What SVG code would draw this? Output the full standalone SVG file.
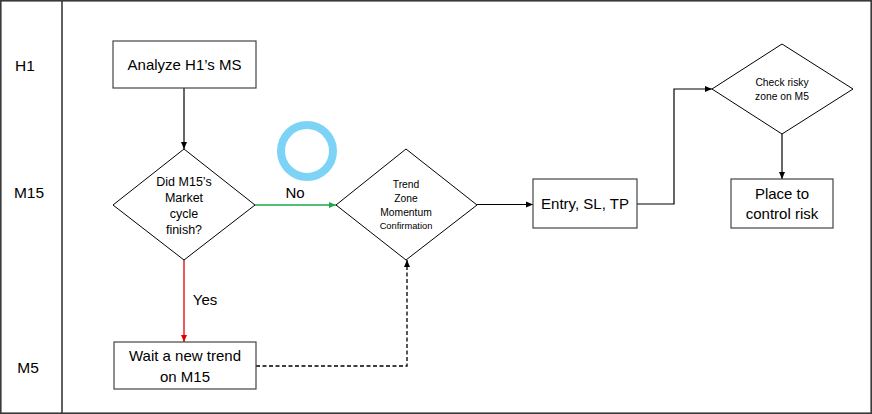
<svg xmlns="http://www.w3.org/2000/svg" width="872" height="414" viewBox="0 0 872 414">
<defs>
<style>
text{font-family:"Liberation Sans",Arial,sans-serif;fill:#000;text-anchor:middle}
.lane{font-size:15.5px}
.big{font-size:15px}
.mid{font-size:12.5px}
.sm{font-size:10.3px}
.xs{font-size:9.3px}
.node{fill:#fff;stroke:#000;stroke-width:1}
.box{fill:#fff;stroke:#444;stroke-width:1.2}
.c{fill:none;stroke:#000;stroke-width:1.2}
</style>
<marker id="ak" markerWidth="8" markerHeight="8" refX="7" refY="4" orient="auto" markerUnits="userSpaceOnUse"><path d="M0,1 L7,4 L0,7 z" fill="#000"/></marker>
<marker id="ag" markerWidth="8" markerHeight="8" refX="7" refY="4" orient="auto" markerUnits="userSpaceOnUse"><path d="M0,1 L7,4 L0,7 z" fill="#1aaa4a"/></marker>
<marker id="ar" markerWidth="8" markerHeight="8" refX="7" refY="4" orient="auto" markerUnits="userSpaceOnUse"><path d="M0,1 L7,4 L0,7 z" fill="#e00000"/></marker>
</defs>
<rect x="0" y="0" width="872" height="414" fill="#fff"/>
<g id="frame">
<rect x="0.8" y="0.8" width="870.4" height="412.4" fill="none" stroke="#3a3a3a" stroke-width="1.6"/>
<line x1="62" y1="0" x2="62" y2="414" stroke="#3a3a3a" stroke-width="1.6"/>
<text class="lane" x="25" y="71">H1</text>
<text class="lane" x="29" y="198">M15</text>
<text class="lane" x="28" y="373">M5</text>
</g>
<g id="connectors">
<line class="c" x1="184" y1="88" x2="184" y2="149" marker-end="url(#ak)"/>
<line x1="255" y1="205" x2="336" y2="205" stroke="#1aaa4a" stroke-width="1.3" marker-end="url(#ag)"/>
<text class="big" x="295" y="198">No</text>
<line x1="184" y1="260" x2="184" y2="342" stroke="#e00000" stroke-width="1.3" marker-end="url(#ar)"/>
<text class="big" x="205" y="305">Yes</text>
<polyline points="256,366 407,366 407,260" fill="none" stroke="#000" stroke-width="1.3" stroke-dasharray="4,2.5" marker-end="url(#ak)"/>
<line class="c" x1="477" y1="204.5" x2="533" y2="204.5" marker-end="url(#ak)"/>
<polyline class="c" points="637,204 674,204 674,89 712,89" stroke-width="1.6" marker-end="url(#ak)"/>
<line class="c" x1="782" y1="134" x2="782" y2="179" stroke-width="1.6" marker-end="url(#ak)"/>
</g>
<g id="n-analyze">
<rect class="box" x="113" y="41" width="143" height="47"/>
<text class="big" x="184.5" y="70">Analyze H1’s MS</text>
</g>
<g id="n-did">
<polygon class="node" points="184,149 255,205 184,260 113,205"/>
<text class="mid" x="184" y="186">Did M15’s</text>
<text class="mid" x="184" y="202">Market</text>
<text class="mid" x="184" y="218">cycle</text>
<text class="mid" x="184" y="234">finish?</text>
</g>
<g id="n-trend">
<polygon class="node" points="406,149 477,205 406,260 336,205"/>
<text class="sm" x="406" y="188">Trend</text>
<text class="sm" x="406" y="202">Zone</text>
<text class="sm" x="406" y="216">Momentum</text>
<text class="xs" x="406" y="229">Confirmation</text>
</g>
<g id="n-entry">
<rect class="box" x="533" y="179" width="104" height="49"/>
<text class="big" x="585" y="209">Entry, SL, TP</text>
</g>
<g id="n-check">
<polygon class="node" points="782,44 853,89 782,134 712,89"/>
<text class="sm" x="782" y="86">Check risky</text>
<text class="sm" x="782" y="100">zone on M5</text>
</g>
<g id="n-place">
<rect class="box" x="731" y="179" width="102" height="49"/>
<text class="big" x="782" y="199">Place to</text>
<text class="big" x="782" y="219">control risk</text>
</g>
<g id="n-wait">
<rect class="box" x="114" y="342" width="142" height="47"/>
<text class="big" x="185" y="361">Wait a new trend</text>
<text class="big" x="185" y="382">on M15</text>
</g>
<g id="marker-circle">
<circle cx="307" cy="151" r="26" fill="none" stroke="#7dd3f5" stroke-width="8"/>
</g>
</svg>
